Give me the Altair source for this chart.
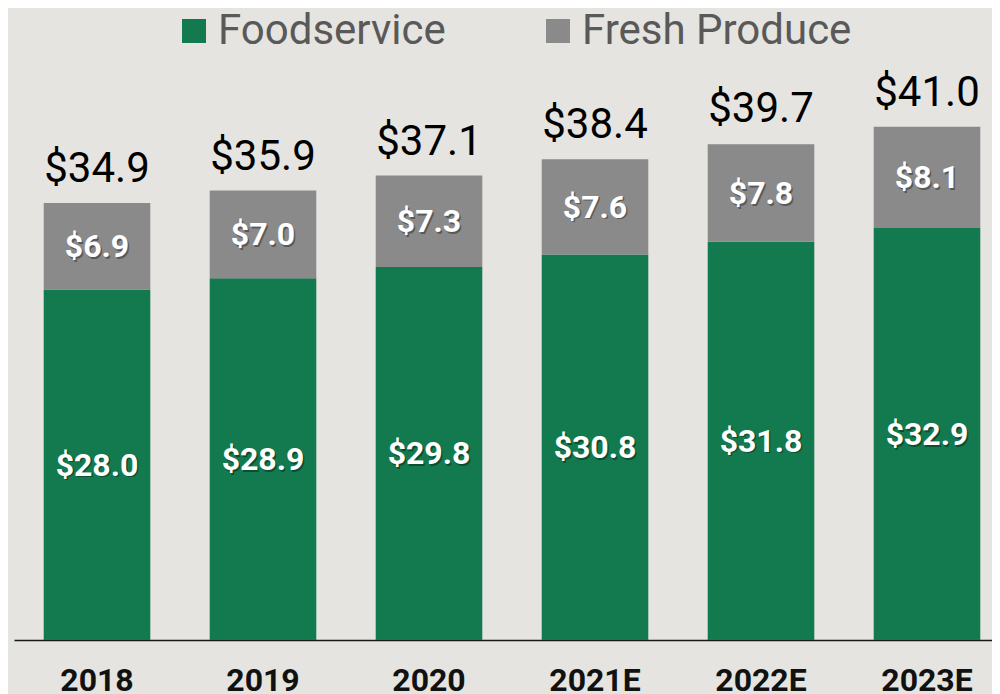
import altair as alt
import pandas as pd

years = ["2018", "2019", "2020", "2021E", "2022E", "2023E"]
foodservice = [28.0, 28.9, 29.8, 30.8, 31.8, 32.9]
fresh_produce = [6.9, 7.0, 7.3, 7.6, 7.8, 8.1]
totals = [34.9, 35.9, 37.1, 38.4, 39.7, 41.0]
segments = ["Foodservice", "Fresh Produce"]
colors = ["#13794E", "#8A8A8A"]

rows = []
for i, y in enumerate(years):
    f = foodservice[i]
    p = fresh_produce[i]
    rows.append({"year": y, "segment": segments[0], "value": f, "order": 0,
                 "mid": f / 2, "label": f"${f:.1f}"})
    rows.append({"year": y, "segment": segments[1], "value": p, "order": 1,
                 "mid": f + p / 2, "label": f"${p:.1f}"})
seg_df = pd.DataFrame(rows)
tot_df = pd.DataFrame({"year": years, "total": totals,
                       "label": [f"${t:.1f}" for t in totals]})

FONT = "Roboto"
x_enc = alt.X("year:N", sort=years,
              scale=alt.Scale(range=[0, 996], paddingInner=0.358, paddingOuter=0.179),
              axis=alt.Axis(title=None, labelAngle=0, labelFont=FONT, labelFontSize=32,
                            labelFontWeight="bold", labelColor="#111111", labelPadding=25,
                            ticks=False, tickSize=0, domainColor="#1a1a1a", domainWidth=1.5,
                            grid=False))
y_scale = alt.Scale(domain=[0, 50.48], nice=False, zero=True)

bars = alt.Chart(seg_df).mark_bar().encode(
    x=x_enc,
    y=alt.Y("value:Q", stack="zero", scale=y_scale, axis=None),
    color=alt.Color("segment:N", sort=segments,
                    scale=alt.Scale(domain=segments, range=colors),
                    legend=alt.Legend(title=None, orient="none", direction="horizontal",
                                      legendX=159, legendY=2, padding=0,
                                      symbolType="square", symbolSize=576,
                                      symbolStrokeWidth=0, labelFont=FONT,
                                      labelFontSize=42, labelColor="#595959",
                                      labelOffset=3, columnPadding=91,
                                      labelLimit=400)),
    order=alt.Order("order:Q"),
)

shadow = alt.Chart(seg_df).mark_text(
    font=FONT, fontSize=32, fontWeight="bold", color="#000000", opacity=0.35,
    dx=1.5, dy=2.5, baseline="middle", align="center"
).encode(x=alt.X("year:N", sort=years), y=alt.Y("mid:Q", scale=y_scale), text="label:N")

seg_text = alt.Chart(seg_df).mark_text(
    font=FONT, fontSize=32, fontWeight="bold", color="#ffffff",
    baseline="middle", align="center", dy=1
).encode(x=alt.X("year:N", sort=years), y=alt.Y("mid:Q", scale=y_scale), text="label:N")

tot_text = alt.Chart(tot_df).mark_text(
    font=FONT, fontSize=42, color="#000000", baseline="alphabetic", align="center", dy=-21
).encode(x=alt.X("year:N", sort=years), y=alt.Y("total:Q", scale=y_scale), text="label:N")

chart = alt.layer(bars, shadow, seg_text, tot_text).properties(
    width=978, height=632,
    autosize=alt.AutoSizeParams(type="none"),
    padding={"left": 6, "top": 0, "right": 0, "bottom": 54},
    background="#E5E4E0",
).configure_view(stroke=None)

chart.save("out.html", embed_options={"renderer": "svg", "actions": False})
